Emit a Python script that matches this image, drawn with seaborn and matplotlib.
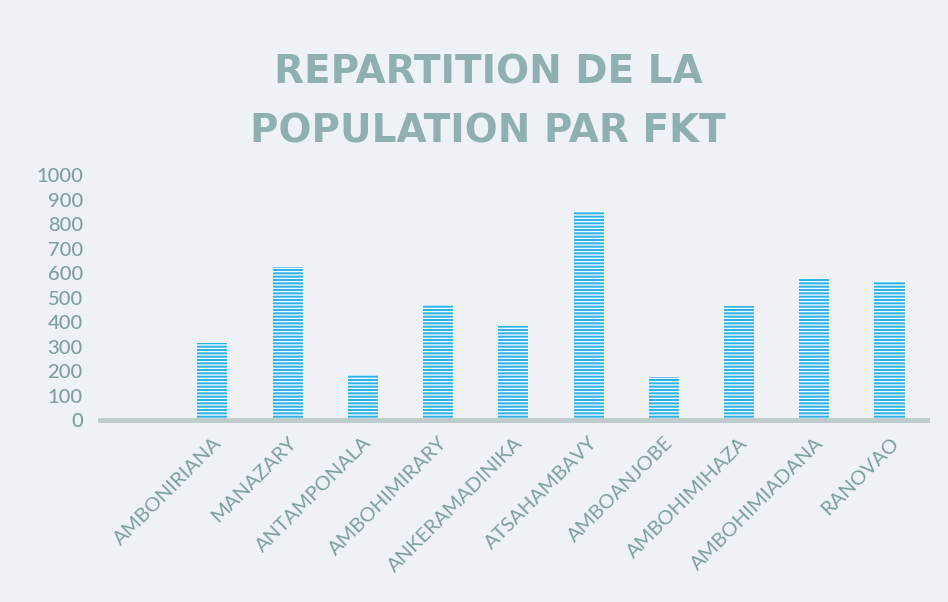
import matplotlib
matplotlib.use("Agg")
import matplotlib.pyplot as plt
import seaborn as sns
import pandas as pd

# ---- data ----
categories = ["AMBONIRIANA", "MANAZARY", "ANTAMPONALA", "AMBOHIMIRARY",
              "ANKERAMADINIKA", "ATSAHAMBAVY", "AMBOANJOBE", "AMBOHIMIHAZA",
              "AMBOHIMIADANA", "RANOVAO"]
population = [315, 625, 185, 470, 385, 855, 175, 465, 580, 570]
y_ticks = [0, 100, 200, 300, 400, 500, 600, 700, 800, 900, 1000]
title = "REPARTITION DE LA\nPOPULATION PAR FKT"

# empty leading slot, as in the reference
order = [" "] + categories

sns.set_theme(style="white")
plt.rcParams["font.family"] = ["Open Sans", "DejaVu Sans"]
plt.rcParams["hatch.linewidth"] = 0.9

BG = "#eef1f6"
TXT = "#7e9f9f"
BAR = "#2fb2e8"

df = pd.DataFrame({"fkt": categories, "pop": population})

fig = plt.figure(figsize=(9.48, 6.02), dpi=100, facecolor=BG)
ax = fig.add_axes([0.105, 0.302, 0.873, 0.407])
ax.set_facecolor(BG)

sns.barplot(data=df, x="fkt", y="pop", order=order, color=BAR,
            width=0.4, saturation=1, ax=ax, hatch="-----",
            edgecolor="#ffffff", linewidth=0)

ax.set_ylim(0, 1000)
ax.set_yticks(y_ticks)
ax.set_yticklabels([str(v) for v in y_ticks], fontsize=14.5, color=TXT,
                   family=["Lato", "DejaVu Sans"], fontweight="medium")
ax.tick_params(axis="y", length=0, pad=12)
ax.tick_params(axis="x", length=0, pad=10)
ax.set_xticks(range(len(order)))
ax.set_xticklabels(order, rotation=45, ha="right", rotation_mode="anchor",
                   fontsize=14.5, color=TXT, family=["Lato", "DejaVu Sans"])
ax.set_xlabel("")
ax.set_ylabel("")
ax.set_xlim(-0.5, len(order) - 0.5)

for s in ["left", "right", "top"]:
    ax.spines[s].set_visible(False)
ax.spines["bottom"].set_color("#bfcaca")
ax.spines["bottom"].set_linewidth(3.5)

fig.text(0.515, 0.83, title, ha="center", va="center", fontsize=28,
         fontweight="bold", color="#8fb0b0", linespacing=1.7,
         family=["DejaVu Sans"])

fig.savefig("out.png", dpi=100, facecolor=BG)
